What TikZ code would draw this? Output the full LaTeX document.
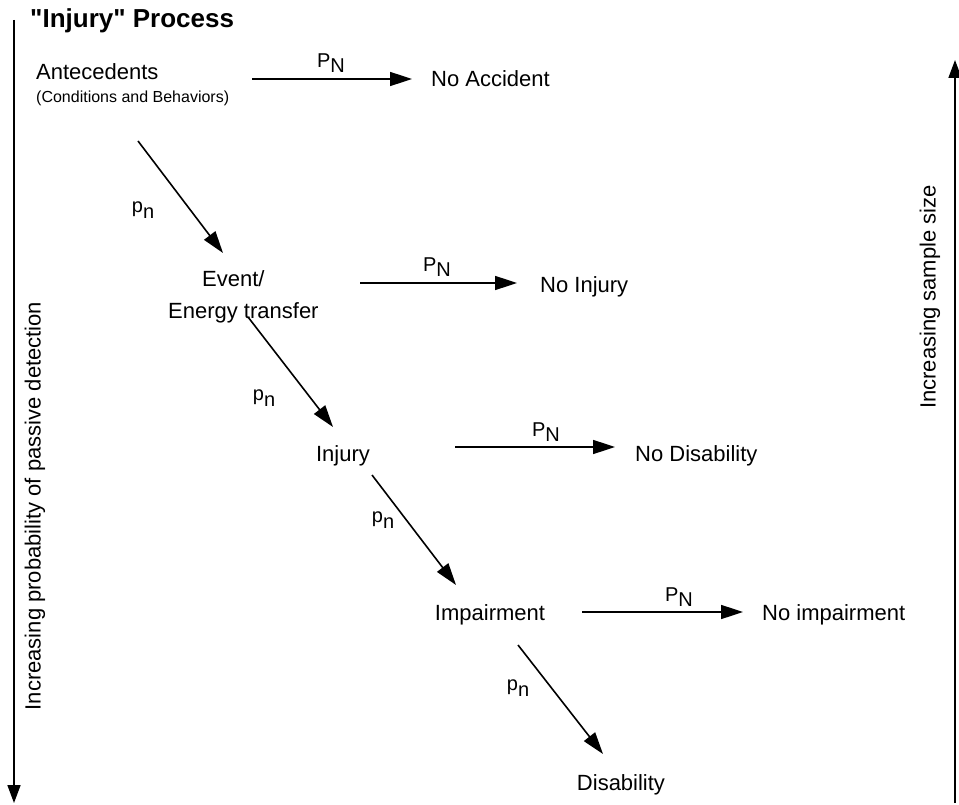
\documentclass[tikz,border=0pt]{standalone}
\usepackage{fontspec}
\setmainfont{Liberation Sans}[Ligatures=TeXOff]
\usetikzlibrary{arrows.meta}
\begin{document}
\begin{tikzpicture}[x=1pt,y=-1pt,
  conn/.style={line width=1.6pt, -{Triangle[length=22pt,width=14pt]}},
  axisline/.style={line width=1.6pt, -{Triangle[length=18pt,width=13pt]}},
  lbl/.style={font=\fontsize{22}{26}\selectfont, inner sep=0pt},
  small/.style={font=\fontsize{16}{19}\selectfont, inner sep=0pt},
  ttl/.style={font=\bfseries\fontsize{26}{30}\selectfont, inner sep=0pt},
  plbl/.style={font=\fontsize{20}{24}\selectfont, inner sep=0pt, anchor=base},
  ]
\useasboundingbox (0,0) rectangle (959,805);

% axes
\coordinate (lt) at (14,20);
\coordinate (lb) at (14,803);
\draw[axisline] (lt) -- (lb);
\coordinate (rb) at (955,803);
\coordinate (rt) at (955,60);
\draw[axisline] (rb) -- (rt);
\node[lbl, rotate=90] (lefttxt) at (35,506) {Increasing probability of passive detection};
\node[lbl, rotate=90] (righttxt) at (930,297) {Increasing sample size};

% title
\node[ttl, anchor=base west] (title) at (30,28) {"Injury" Process};

% texts
\node[lbl, anchor=base west] (ante) at (36,80) {Antecedents};
\node[small, anchor=base west] (cond) at (36,103) {(Conditions and Behaviors)};
\node[lbl, anchor=base west] (noacc) at (431,87) {No Accident};
\node[lbl, anchor=base west] (ev1) at (202,287) {Event/};
\node[lbl, anchor=base west] (ev2) at (168,318) {Energy transfer};
\node[lbl, anchor=base west] (noinj) at (540,293) {No Injury};
\node[lbl, anchor=base] (inj) at (343,461) {Injury};
\node[lbl, anchor=base west] (nodis) at (635,461) {No Disability};
\node[lbl, anchor=base] (imp) at (490,620) {Impairment};
\node[lbl, anchor=base west] (noimp) at (762,620) {No impairment};
\node[lbl, anchor=base] (dis) at (621,790) {Disability};

% horizontal connectors
\coordinate (h1s) at (252,79);  \coordinate (h1e) at (412,79);
\coordinate (h2s) at (360,283); \coordinate (h2e) at (517,283);
\coordinate (h3s) at (455,447); \coordinate (h3e) at (615,447);
\coordinate (h4s) at (582,612); \coordinate (h4e) at (743,612);
\draw[conn] (h1s) -- (h1e);
\draw[conn] (h2s) -- (h2e);
\draw[conn] (h3s) -- (h3e);
\draw[conn] (h4s) -- (h4e);
\node[plbl] (pn1) at (331,68) {P\raisebox{-5pt}{N}};
\node[plbl] (pn2) at (437,272) {P\raisebox{-5pt}{N}};
\node[plbl] (pn3) at (546,436) {P\raisebox{-5pt}{N}};
\node[plbl] (pn4) at (679,601) {P\raisebox{-5pt}{N}};

% diagonal connectors
\coordinate (d1s) at (138,141); \coordinate (d1e) at (223,253);
\coordinate (d2s) at (248,317); \coordinate (d2e) at (333,427);
\coordinate (d3s) at (372,475); \coordinate (d3e) at (456,585);
\coordinate (d4s) at (518,645); \coordinate (d4e) at (603,754);
\draw[conn] (d1s) -- (d1e);
\draw[conn] (d2s) -- (d2e);
\draw[conn] (d3s) -- (d3e);
\draw[conn] (d4s) -- (d4e);
\node[plbl] (ps1) at (143,213) {p\raisebox{-6pt}{n}};
\node[plbl] (ps2) at (264,400) {p\raisebox{-6pt}{n}};
\node[plbl] (ps3) at (383,522) {p\raisebox{-6pt}{n}};
\node[plbl] (ps4) at (518,690) {p\raisebox{-6pt}{n}};
\end{tikzpicture}
\end{document}
